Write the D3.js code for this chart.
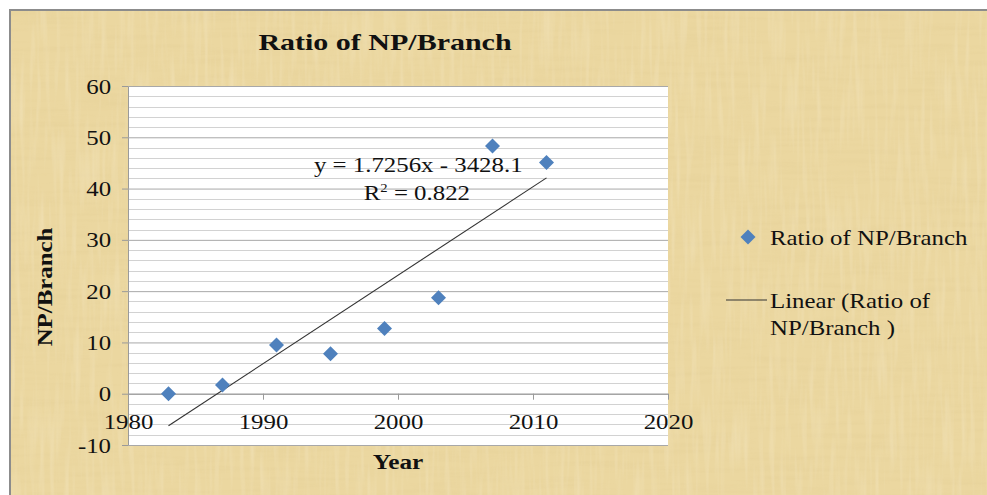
<!DOCTYPE html>
<html>
<head>
<meta charset="utf-8">
<script src="https://cdn.jsdelivr.net/npm/d3@7"></script>
<style>
  body { margin: 0; background: #fff; }
  text { font-family: "Liberation Serif", "DejaVu Serif", serif; fill: #111; }
</style>
</head>
<body>
<div id="chart"></div>
<script>
// data
var years = [1983, 1987, 1991, 1995, 1999, 2003, 2007, 2011];
var ratios = [0, 1.7, 9.5, 7.8, 12.7, 18.7, 48.3, 45.1];
var yTicks = [-10, 0, 10, 20, 30, 40, 50, 60];
var xTicks = [1980, 1990, 2000, 2010, 2020];
var trendSlope = 1.7256;
var trendIntercept = -3428.1;

var svgWidth = 987, svgHeight = 495;
var margin = { top: 86, left: 128 };
var width = 540, height = 359;
var stretch = 1.13;

var svg = d3.select("#chart").append("svg")
  .attr("width", svgWidth).attr("height", svgHeight);

// papyrus-ish background
var defs = svg.append("defs");
var filt = defs.append("filter").attr("id", "papyrus")
  .attr("x", 0).attr("y", 0).attr("width", "100%").attr("height", "100%");
filt.append("feTurbulence").attr("type", "fractalNoise")
  .attr("baseFrequency", "0.012 0.18").attr("numOctaves", 3).attr("seed", 4).attr("result", "n1");
filt.append("feColorMatrix").attr("in", "n1").attr("type", "matrix")
  .attr("values", "0 0 0 0 0.7  0 0 0 0 0.55  0 0 0 0 0.25  0 0 -1.1 0 0.62").attr("result", "c1");
filt.append("feTurbulence").attr("type", "fractalNoise")
  .attr("baseFrequency", "0.2 0.015").attr("numOctaves", 2).attr("seed", 9).attr("result", "n2");
filt.append("feColorMatrix").attr("in", "n2").attr("type", "matrix")
  .attr("values", "0 0 0 0 1  0 0 0 0 0.96  0 0 0 0 0.84  0 0 -1.2 0 0.65").attr("result", "c2");
filt.append("feMerge").selectAll("feMergeNode").data(["c1", "c2"]).enter()
  .append("feMergeNode").attr("in", d => d);

svg.append("rect")
  .attr("x", 10).attr("y", 10).attr("width", svgWidth).attr("height", svgHeight)
  .attr("fill", "#ebd7a0");
svg.append("rect")
  .attr("x", 10).attr("y", 10).attr("width", svgWidth).attr("height", svgHeight)
  .attr("filter", "url(#papyrus)").attr("opacity", 0.35);
svg.append("rect")
  .attr("x", 10).attr("y", 10).attr("width", svgWidth + 10).attr("height", svgHeight + 10)
  .attr("fill", "none").attr("stroke", "#8c8c8c").attr("stroke-width", 2);

var x = d3.scaleLinear().domain([1980, 2020]).range([0, width]);
var y = d3.scaleLinear().domain([-10, 60]).range([height, 0]);

var chartGroup = svg.append("g")
  .attr("transform", `translate(${margin.left}, ${margin.top})`);

chartGroup.append("rect")
  .attr("width", width).attr("height", height).attr("fill", "#fff");

// minor grid every 2, major every 10
chartGroup.append("g").selectAll("line")
  .data(d3.range(-10, 61, 2).filter(v => v % 10 != 0))
  .enter().append("line")
  .attr("x1", 0).attr("x2", width)
  .attr("y1", d => Math.round(y(d)) + 0.5).attr("y2", d => Math.round(y(d)) + 0.5)
  .attr("stroke", "#d2d2d2");

var yAxis = chartGroup.append("g")
  .call(d3.axisLeft(y).tickValues(yTicks).tickSize(6).tickPadding(9).tickFormat(d => String(d)));
yAxis.select(".domain").attr("stroke", "#9a9a9a");
yAxis.selectAll(".tick line").attr("stroke", "#9a9a9a");
yAxis.selectAll(".tick").append("line")
  .attr("x1", 0).attr("x2", width).attr("stroke", "#a8a8a8");
yAxis.selectAll("text")
  .style("font-family", "'Liberation Serif', serif").style("font-size", "22px").attr("fill", "#111")
  .attr("transform", `scale(${stretch},1)`);

var xAxis = chartGroup.append("g")
  .attr("transform", `translate(0, ${y(0)})`)
  .call(d3.axisBottom(x).tickValues(xTicks).tickSize(6).tickPadding(14).tickSizeOuter(0).tickFormat(d => String(d)));
xAxis.select(".domain").attr("stroke", "#9a9a9a");
xAxis.selectAll(".tick line").attr("stroke", "#9a9a9a");
xAxis.selectAll("text")
  .style("font-family", "'Liberation Serif', serif").style("font-size", "22px").attr("fill", "#111")
  .attr("transform", `scale(${stretch},1)`);

// trendline
chartGroup.append("line")
  .attr("x1", x(years[0])).attr("y1", y(trendSlope * years[0] + trendIntercept))
  .attr("x2", x(years[years.length - 1])).attr("y2", y(trendSlope * years[years.length - 1] + trendIntercept))
  .attr("stroke", "#333").attr("stroke-width", 1.1);

var diamond = "M0,-7.5L7.5,0L0,7.5L-7.5,0Z";
chartGroup.selectAll("path.pt")
  .data(years)
  .enter().append("path")
  .attr("class", "pt")
  .attr("d", diamond)
  .attr("transform", (d, i) => `translate(${x(d)}, ${y(ratios[i])})`)
  .attr("fill", "#4f81bd");

// text placed at (tx,ty) with horizontal stretch
function label(parent, tx, ty, s, size, anchor, bold) {
  return parent.append("text")
    .attr("transform", `translate(${tx}, ${ty}) scale(${s},1)`)
    .attr("text-anchor", anchor)
    .style("font-size", size + "px")
    .style("font-weight", bold ? "bold" : "normal");
}

label(chartGroup, x(2001.5), y(43.2), stretch, 22, "middle").text("y = 1.7256x - 3428.1");
var r2 = label(chartGroup, x(2001.4), y(37.8), stretch, 22, "middle");
r2.append("tspan").text("R");
r2.append("tspan").attr("dy", -8).style("font-size", "13px").text("2");
r2.append("tspan").attr("dy", 8).text(" = 0.822");

// titles
label(svg, 385, 50, 1.25, 24, "middle", true).text("Ratio of NP/Branch");
label(svg, 398, 469, 1.15, 22, "middle", true).text("Year");
svg.append("text")
  .attr("transform", "translate(52, 287) rotate(-90) scale(1.13,1)").attr("text-anchor", "middle")
  .style("font-size", "22px").style("font-weight", "bold")
  .text("NP/Branch");

// legend
var legend = svg.append("g");
legend.append("path").attr("d", diamond)
  .attr("transform", "translate(748, 237)").attr("fill", "#4f81bd");
label(legend, 770, 245, stretch, 22, "start").text("Ratio of NP/Branch");
legend.append("line").attr("x1", 726).attr("x2", 767).attr("y1", 300).attr("y2", 300)
  .attr("stroke", "#333").attr("stroke-width", 1.1);
label(legend, 770, 308, stretch, 22, "start").text("Linear (Ratio of");
label(legend, 770, 335, stretch, 22, "start").text("NP/Branch )");
</script>
</body>
</html>
